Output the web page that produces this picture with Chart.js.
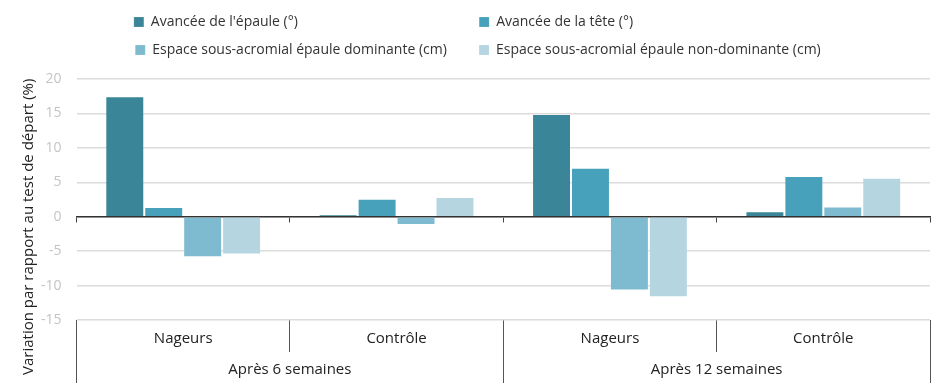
<!DOCTYPE html>
<html>
<head>
<meta charset="utf-8">
<script src="https://cdn.jsdelivr.net/npm/chart.js@4"></script>
<style>
  html, body { margin: 0; padding: 0; background: #fff; }
  #wrap { width: 946px; height: 388px; }
</style>
</head>
<body>
<div id="wrap"><canvas id="chart"></canvas></div>
<script>
// data
const groups = ['Nageurs', 'Contrôle', 'Nageurs', 'Contrôle']
const periods = ['Après 6 semaines', 'Après 12 semaines']
const seriesNames = [
    "Avancée de l'épaule (°)",
    'Avancée de la tête (°)',
    'Espace sous-acromial épaule dominante (cm)',
    'Espace sous-acromial épaule non-dominante (cm)'
]
const epaule = [17.5, 0.35, 14.9, 0.8]
const tete = [1.4, 2.6, 7.1, 5.9]
const dominante = [-5.9, -1.2, -10.7, 1.5]
const nonDominante = [-5.5, 2.85, -11.7, 5.65]
const yTicks = [-15, -10, -5, 0, 5, 10, 15, 20]
const yTitle = 'Variation par rapport au test de départ (%)'

const colors = ['#3a8598', '#47a1ba', '#7ebbd0', '#b5d5e0']
const font = 'Open Sans'

function measurer(size){
    const c = document.createElement('canvas').getContext('2d')
    c.font = size + 'px "' + font + '"'
    return t => c.measureText(t).width
}

// pad legend texts so both rows line up in two columns
function padLabels(names){
    const w = measurer(14)
    const sp = w(' ')
    const col1 = Math.max(w(names[0]), w(names[2])) + 20
    const col2 = Math.max(w(names[1]), w(names[3]))
    return names.map((n, i) => {
        let target = (i % 2 == 0) ? col1 : col2
        let s = n
        while (w(s) + sp / 2 < target) s += ' '
        return s
    })
}

// the y title sits lower than the plot centre in the original
// (rotated text: trailing spaces end up at the top)
function shiftTitle(text, px){
    const w = measurer(15)
    const n = Math.round(2 * px / w(' '))
    return text + ' '.repeat(n)
}

// extra room under the legend, and re-centre it (chart.js counts the padding after the last item)
const legendTweak = {
    id: 'legendTweak',
    beforeInit(chart){
        const fit = chart.legend.fit
        chart.legend.fit = function(){
            fit.bind(chart.legend)()
            this.height += 12
        }
    },
    afterLayout(chart){
        const shift = chart.legend.options.labels.padding / 2 - 4
        chart.legend.left += shift
        chart.legend.right += shift
    }
}

document.fonts.load('14px "' + font + '"').then(draw, draw)

function draw(){
    const labels = padLabels(seriesNames)
    const values = [epaule, tete, dominante, nonDominante]
    const datasets = []
    for (let i = 0; i < 4; i++){
        datasets.push({
            label: labels[i],
            data: values[i],
            backgroundColor: colors[i],
            borderColor: 'rgba(255,255,255,0.15)',
            borderWidth: 1,
            categoryPercentage: 0.73,
            barPercentage: 1.0
        })
    }

    new Chart(document.getElementById('chart').getContext('2d'), {
        type: 'bar',
        data: { labels: groups, datasets: datasets },
        plugins: [legendTweak],
        options: {
            responsive: true,
            maintainAspectRatio: false,
            animation: false,
            layout: { padding: { left: 20, right: 16, top: 1, bottom: 5 } },
            plugins: {
                tooltip: { enabled: false },
                legend: {
                    position: 'top',
                    onClick: null,
                    labels: {
                        boxWidth: 10,
                        boxHeight: 10,
                        padding: 14,
                        color: '#333',
                        font: { family: font, size: 14 }
                    }
                }
            },
            scales: {
                x: {
                    position: 'bottom',
                    offset: true,
                    grid: {
                        offset: true,
                        drawOnChartArea: false,
                        tickLength: 32,
                        color: '#555',
                        lineWidth: 1
                    },
                    border: { display: false },
                    ticks: {
                        color: '#222',
                        padding: -22,
                        font: { family: font, size: 15 }
                    },
                    afterFit: s => { s.height = 32 }
                },
                x2: {
                    type: 'category',
                    position: 'bottom',
                    labels: periods,
                    offset: true,
                    grid: {
                        offset: true,
                        drawOnChartArea: false,
                        tickLength: 31,
                        color: '#555',
                        lineWidth: 1
                    },
                    border: { display: false },
                    ticks: {
                        color: '#222',
                        padding: -22,
                        font: { family: font, size: 15 }
                    },
                    afterFit: s => { s.height = 31 }
                },
                x0: {
                    type: 'category',
                    position: { y: 0 },
                    labels: groups,
                    offset: true,
                    z: 1,
                    grid: {
                        offset: true,
                        drawOnChartArea: false,
                        tickLength: 5,
                        color: '#444'
                    },
                    border: { display: true, color: '#333', width: 1.5 },
                    ticks: { display: false }
                },
                y: {
                    min: -15,
                    max: 20,
                    afterBuildTicks: axis => {
                        axis.ticks = yTicks.map(v => ({ value: v }))
                    },
                    grid: {
                        color: '#dcdcdc',
                        lineWidth: 1.5,
                        drawTicks: false
                    },
                    border: { display: false },
                    ticks: {
                        color: '#c4c4c4',
                        padding: 15,
                        font: { family: font, size: 14 }
                    },
                    title: {
                        display: true,
                        text: shiftTitle(yTitle, 28),
                        color: '#222',
                        padding: { top: 0, bottom: -12 },
                        font: { family: font, size: 15 }
                    }
                }
            }
        }
    })
}
</script>
</body>
</html>
